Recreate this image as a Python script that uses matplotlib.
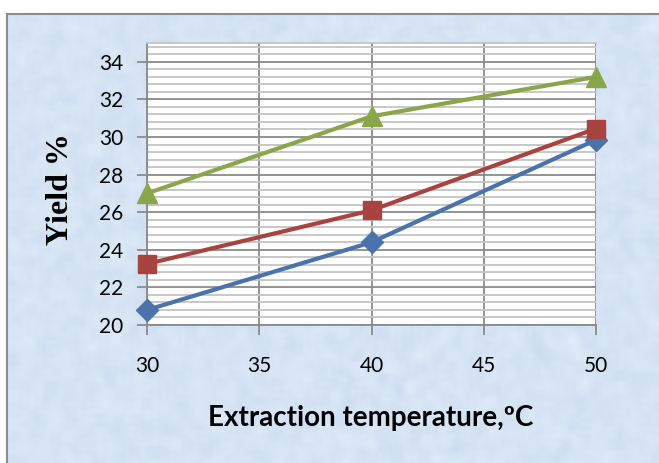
import numpy as np
import matplotlib
matplotlib.use("Agg")
import matplotlib.pyplot as plt
from matplotlib.patches import Rectangle
from matplotlib.ticker import MultipleLocator

# extraction yield vs temperature
temperature = [30, 40, 50]
yield_a = [20.8, 24.4, 29.85]   # blue diamonds
yield_b = [23.25, 26.1, 30.45]  # red squares
yield_c = [27.0, 31.1, 33.2]    # green triangles

W, H = 659, 463
fig = plt.figure(figsize=(W / 100, H / 100), dpi=100, facecolor="white")

# textured light blue chart area
bg = fig.add_axes([7 / W, 0, 1 - 7 / W, (H - 14) / H])
rng = np.random.default_rng(3)
noise = rng.normal(0, 1, (110, 165))
k = np.ones(3) / 3
noise = np.apply_along_axis(lambda r: np.convolve(r, k, mode="same"), 1, noise)
noise = np.apply_along_axis(lambda c: np.convolve(c, k, mode="same"), 0, noise)
base = np.array([214, 228, 244]) / 255.0
tex = np.clip(base[None, None, :] + 0.035 * noise[:, :, None] * np.array([1.0, 0.8, 0.5]), 0, 1)
bg.imshow(tex, aspect="auto", interpolation="bilinear", extent=[0, 1, 0, 1])
bg.set_xlim(0, 1)
bg.set_ylim(0, 1)
bg.axis("off")
fig.patches.append(Rectangle((7 / W, -0.01), 1.0, (H - 14) / H + 0.01, transform=fig.transFigure,
                             fill=False, edgecolor="#8c8c8c", linewidth=1.5))

ax = fig.add_axes([147 / W, (H - 325) / H, 449 / W, 282 / H])
ax.set_facecolor("white")

ax.plot(temperature, yield_a, color="#4a72ab", lw=3, marker="D", ms=11, clip_on=False, zorder=5)
ax.plot(temperature, yield_b, color="#a9433f", lw=3, marker="s", ms=13, clip_on=False, zorder=5)
ax.plot(temperature, yield_c, color="#89a64b", lw=3, marker="^", ms=15, clip_on=False, zorder=5)

ax.set_xlim(30, 50)
ax.set_ylim(20, 35)
ax.xaxis.set_major_locator(MultipleLocator(5))
ax.yaxis.set_minor_locator(MultipleLocator(0.4))

ax.grid(True, which="major", axis="both", color="#8a8a8a", lw=1.3, zorder=1)
ax.grid(True, which="minor", axis="y", color="#c4c4c4", lw=1.3, zorder=1)
ax.set_axisbelow(True)

ax.spines["right"].set_visible(False)
ax.spines["top"].set_color("#c4c4c4")
ax.spines["left"].set_color("#8a8a8a")
ax.spines["bottom"].set_color("#8a8a8a")
for s in ["top", "left", "bottom"]:
    ax.spines[s].set_linewidth(1.3)

ax.tick_params(axis="both", which="major", length=7, width=1.3, color="#8a8a8a",
               labelsize=15, labelcolor="black")
ax.tick_params(axis="y", pad=10)
ax.tick_params(axis="x", pad=15)
ax.tick_params(which="minor", length=0)

ax.set_yticks([20, 22, 24, 26, 28, 30, 32, 34])
for lab in ax.get_xticklabels() + ax.get_yticklabels():
    lab.set_fontfamily("Lato")

fig.text(60 / W, 1 - 189 / H, "Yield %", rotation=90, ha="center", va="center",
         fontsize=23, fontweight="bold", fontfamily="Liberation Serif")
fig.text(371 / W, 1 - 418 / H, "Extraction temperature,\u00baC", ha="center", va="center",
         fontsize=20, fontweight="bold", fontfamily="Lato")

fig.savefig("out.png", dpi=100, facecolor="white")
